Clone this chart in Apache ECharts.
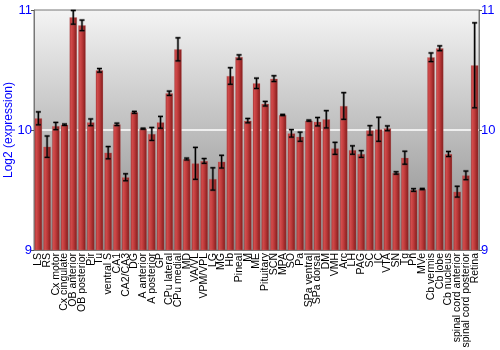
<!DOCTYPE html>
<html>
<head>
<meta charset="utf-8">
<script src="https://cdn.jsdelivr.net/npm/echarts@6/dist/echarts.min.js"></script>
<style>html,body{margin:0;padding:0;background:#fff}#c{width:500px;height:350px}</style>
</head>
<body>
<div id="c"></div>
<script>
const categories = ["LS","RS","Cx motor","Cx cingulate","OB anterior","OB posterior","Pir","Tu","ventral S","CA1","CA2/CA3","DG","A anterior","A posterior","GP","CPu lateral","CPu medial","MD","VA/VL","VPM/VPL","LG","MG","Hb","Pineal","M","ME","Pituitary","SCN","MPA","SO","Pa","SPa ventral","SPa dorsal","DM","VMH","Arc","LH","PAG","SC","IC","VTA","SN","Tg","Pn","MVe","Cb vermis","Cb lobe","Cb nucleus","spinal cord anterior","spinal cord posterior","Retina"];
const means = [10.097,9.861,10.033,10.044,10.939,10.872,10.064,10.497,9.811,10.047,9.606,10.147,10.011,9.967,10.064,10.306,10.672,9.758,9.722,9.742,9.592,9.736,10.45,10.608,10.078,10.389,10.219,10.428,10.125,9.972,9.944,10.078,10.069,10.089,9.847,10.2,9.833,9.8,9.997,10.006,10.014,9.642,9.769,9.5,9.508,10.606,10.681,9.8,9.486,9.622,10.539];
const errors = [0.054,0.089,0.03,0.006,0.057,0.044,0.028,0.015,0.051,0.01,0.029,0.008,0.004,0.054,0.049,0.018,0.096,0.008,0.133,0.02,0.093,0.053,0.069,0.018,0.018,0.043,0.019,0.024,0.005,0.031,0.038,0.005,0.035,0.072,0.05,0.111,0.035,0.028,0.039,0.1,0.02,0.01,0.054,0.011,0.005,0.036,0.02,0.021,0.045,0.036,0.354];
const yTicks = [9, 10, 11];

const errData = means.map((m, i) => [i, m - errors[i], m + errors[i]]);
const blue = '#0000ff';
const chart = echarts.init(document.getElementById('c'));
const axisY = (pos) => ({
  type: 'value', position: pos, min: yTicks[0], max: yTicks[yTicks.length - 1], interval: 1,
  axisLine: {show: true, lineStyle: {color: '#777', width: 1}},
  axisTick: {show: true, length: 3, lineStyle: {color: '#555'}},
  axisLabel: {color: blue, fontSize: 13, margin: 2, fontFamily: 'Liberation Sans, Arial, sans-serif'},
  splitLine: {show: pos === 'left', lineStyle: {color: ['rgba(0,0,0,0)', '#ffffff', 'rgba(0,0,0,0)'], width: 1.5}}
});
const yl = axisY('left');
yl.name = 'Log2 (expression)';
yl.nameLocation = 'middle';
yl.nameGap = 19;
yl.nameMoveOverlap = false;
yl.nameTextStyle = {color: blue, fontSize: 12, fontFamily: 'Liberation Sans, Arial, sans-serif'};
chart.setOption({
  animation: false,
  grid: {
    left: 34, right: 21, top: 10, bottom: 100, show: true,
    outerBoundsMode: 'none', containLabel: false,
    borderColor: '#777', borderWidth: 1,
    backgroundColor: {type: 'linear', x: 0, y: 0, x2: 0, y2: 1, colorStops: [
      {offset: 0, color: '#f4f4f4'}, {offset: 1, color: '#888888'}]}
  },
  xAxis: {
    type: 'category', data: categories,
    axisLine: {show: true, lineStyle: {color: '#777'}},
    axisTick: {show: false},
    axisLabel: {interval: 0, rotate: 90, fontSize: 10.5, color: '#000', margin: 3, fontFamily: 'Liberation Sans, Arial, sans-serif'}
  },
  yAxis: [yl, axisY('right')],
  series: [
    {
      type: 'bar', data: means, barWidth: '86%',
      itemStyle: {
        color: {type: 'linear', x: 0, y: 0, x2: 1, y2: 0, colorStops: [
          {offset: 0, color: '#9a2424'}, {offset: 0.2, color: '#d24c4c'},
          {offset: 0.5, color: '#bd3a3a'}, {offset: 1, color: '#7f1a1a'}]},
        borderColor: 'rgba(200,120,120,0.5)', borderWidth: 0.5
      }
    },
    {
      type: 'custom', data: errData, z: 10,
      renderItem: function (params, api) {
        const x = api.value(0);
        const lo = api.coord([x, api.value(1)]);
        const hi = api.coord([x, api.value(2)]);
        const w = 2.5;
        const mk = (stroke, lw) => [
          {type: 'line', shape: {x1: lo[0], y1: lo[1], x2: hi[0], y2: hi[1]}, style: {stroke: stroke, lineWidth: lw}},
          {type: 'line', shape: {x1: lo[0] - w, y1: lo[1], x2: lo[0] + w, y2: lo[1]}, style: {stroke: stroke, lineWidth: lw}},
          {type: 'line', shape: {x1: hi[0] - w, y1: hi[1], x2: hi[0] + w, y2: hi[1]}, style: {stroke: stroke, lineWidth: lw}}
        ];
        return {type: 'group', children: mk('rgba(60,60,60,0.45)', 2.6).concat(mk('#000', 1.2))};
      }
    }
  ]
});
</script>
</body>
</html>
